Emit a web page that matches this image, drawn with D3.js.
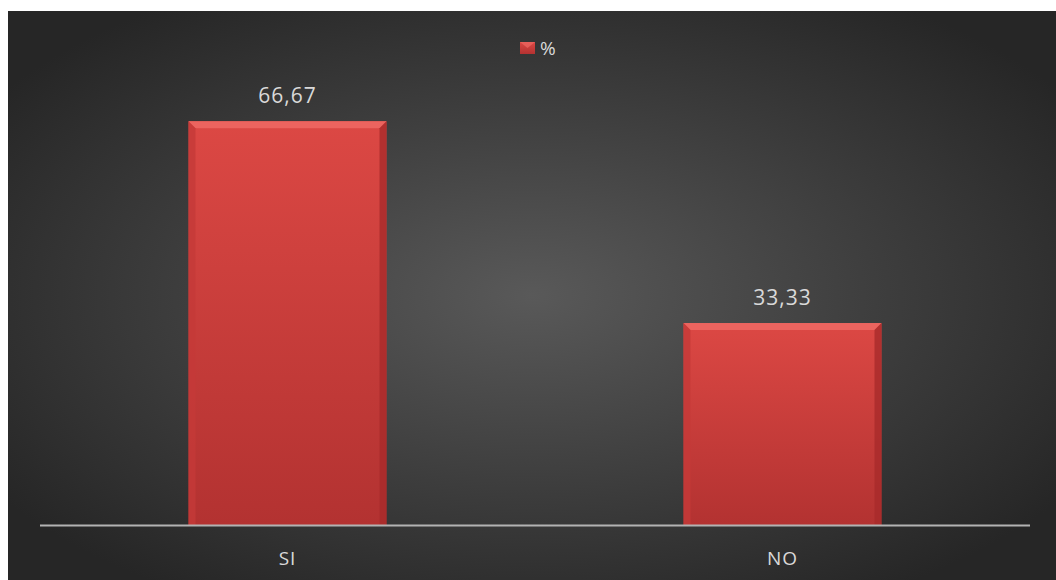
<!DOCTYPE html>
<html>
<head>
<meta charset="utf-8">
<script src="https://cdn.jsdelivr.net/npm/d3@7"></script>
<style>
  html, body { margin: 0; padding: 0; background: #fff; }
  svg { display: block; }
  text { font-family: "Open Sans", Lato, sans-serif; }
</style>
</head>
<body>
<svg id="chart"></svg>
<script>
// data
const categories = ["SI", "NO"];
const values = [66.67, 33.33];
const seriesName = "%";

const W = 1056, H = 580;
const svg = d3.select("#chart").attr("width", W).attr("height", H);

const defs = svg.append("defs");

// background radial gradient
const bg = defs.append("radialGradient").attr("id", "bg")
    .attr("cx", "50%").attr("cy", "50%").attr("r", "62%");
bg.append("stop").attr("offset", "0%").attr("stop-color", "#595959");
bg.append("stop").attr("offset", "100%").attr("stop-color", "#262626");

// bar body gradient (top lighter, bottom darker)
const barG = defs.append("linearGradient").attr("id", "barFill")
    .attr("x1", 0).attr("y1", 0).attr("x2", 0).attr("y2", 1);
barG.append("stop").attr("offset", "0%").attr("stop-color", "#dc4844");
barG.append("stop").attr("offset", "100%").attr("stop-color", "#b33231");

svg.append("rect")
    .attr("x", 8).attr("y", 11)
    .attr("width", W - 8).attr("height", H - 11)
    .attr("fill", "url(#bg)");

const margin = {left: 40, right: 26, top: 101, bottom: 55};
const x = d3.scaleBand()
    .domain(categories)
    .range([margin.left, W - margin.right])
    .paddingInner(0.6)
    .paddingOuter(0.3);
const y = d3.scaleLinear()
    .domain([0, 70])
    .range([H - margin.bottom, margin.top]);

const data = categories.map((c, i) => ({cat: c, val: values[i]}));
const bev = 7;

const bars = svg.append("g").selectAll("g")
  .data(data)
  .join("g");

bars.append("rect")
    .attr("x", d => x(d.cat))
    .attr("y", d => y(d.val))
    .attr("width", x.bandwidth())
    .attr("height", d => y(0) - y(d.val))
    .attr("fill", "url(#barFill)");

// bevel: top light, sides darker
bars.append("path")
    .attr("fill", "#ee6a64")
    .attr("opacity", 0.85)
    .attr("d", d => {
        const x0 = x(d.cat), x1 = x0 + x.bandwidth(), t = y(d.val);
        return `M${x0},${t}L${x1},${t}L${x1 - bev},${t + bev}L${x0 + bev},${t + bev}Z`;
    });
bars.append("path")
    .attr("fill", "#c43a38")
    .attr("opacity", 0.8)
    .attr("d", d => {
        const x0 = x(d.cat), t = y(d.val), b = y(0);
        return `M${x0},${t}L${x0 + bev},${t + bev}L${x0 + bev},${b}L${x0},${b}Z`;
    });
bars.append("path")
    .attr("fill", "#a82a2b")
    .attr("opacity", 0.8)
    .attr("d", d => {
        const x1 = x(d.cat) + x.bandwidth(), t = y(d.val), b = y(0);
        return `M${x1},${t}L${x1 - bev},${t + bev}L${x1 - bev},${b}L${x1},${b}Z`;
    });

// value labels
bars.append("text")
    .attr("x", d => x(d.cat) + x.bandwidth() / 2)
    .attr("y", d => y(d.val) - 18)
    .attr("text-anchor", "middle")
    .attr("fill", "#d9d9d9")
    .style("font-size", "21px")
    .style("letter-spacing", "1px")
    .text(d => d3.format(".2f")(d.val).replace(".", ","));

// axis line
svg.append("line")
    .attr("x1", margin.left).attr("x2", W - margin.right)
    .attr("y1", y(0) + 0.5).attr("y2", y(0) + 0.5)
    .attr("stroke", "#b3b3b3").attr("stroke-width", 2);

// category labels
svg.append("g").selectAll("text")
  .data(categories)
  .join("text")
    .attr("x", d => x(d) + x.bandwidth() / 2)
    .attr("y", y(0) + 40)
    .attr("text-anchor", "middle")
    .attr("fill", "#d9d9d9")
    .style("font-size", "19px")
    .style("letter-spacing", "1px")
    .text(d => d);

// legend
const leg = svg.append("g").attr("transform", "translate(520,42)");
leg.append("rect").attr("width", 15).attr("height", 12).attr("fill", "url(#barFill)");
leg.append("path").attr("d", "M0,0L15,0L7.5,6Z").attr("fill", "#ee6a64").attr("opacity", 0.7);
leg.append("text")
    .attr("x", 20).attr("y", 13)
    .attr("fill", "#d9d9d9")
    .style("font-size", "19px")
    .text(seriesName);
</script>
</body>
</html>
